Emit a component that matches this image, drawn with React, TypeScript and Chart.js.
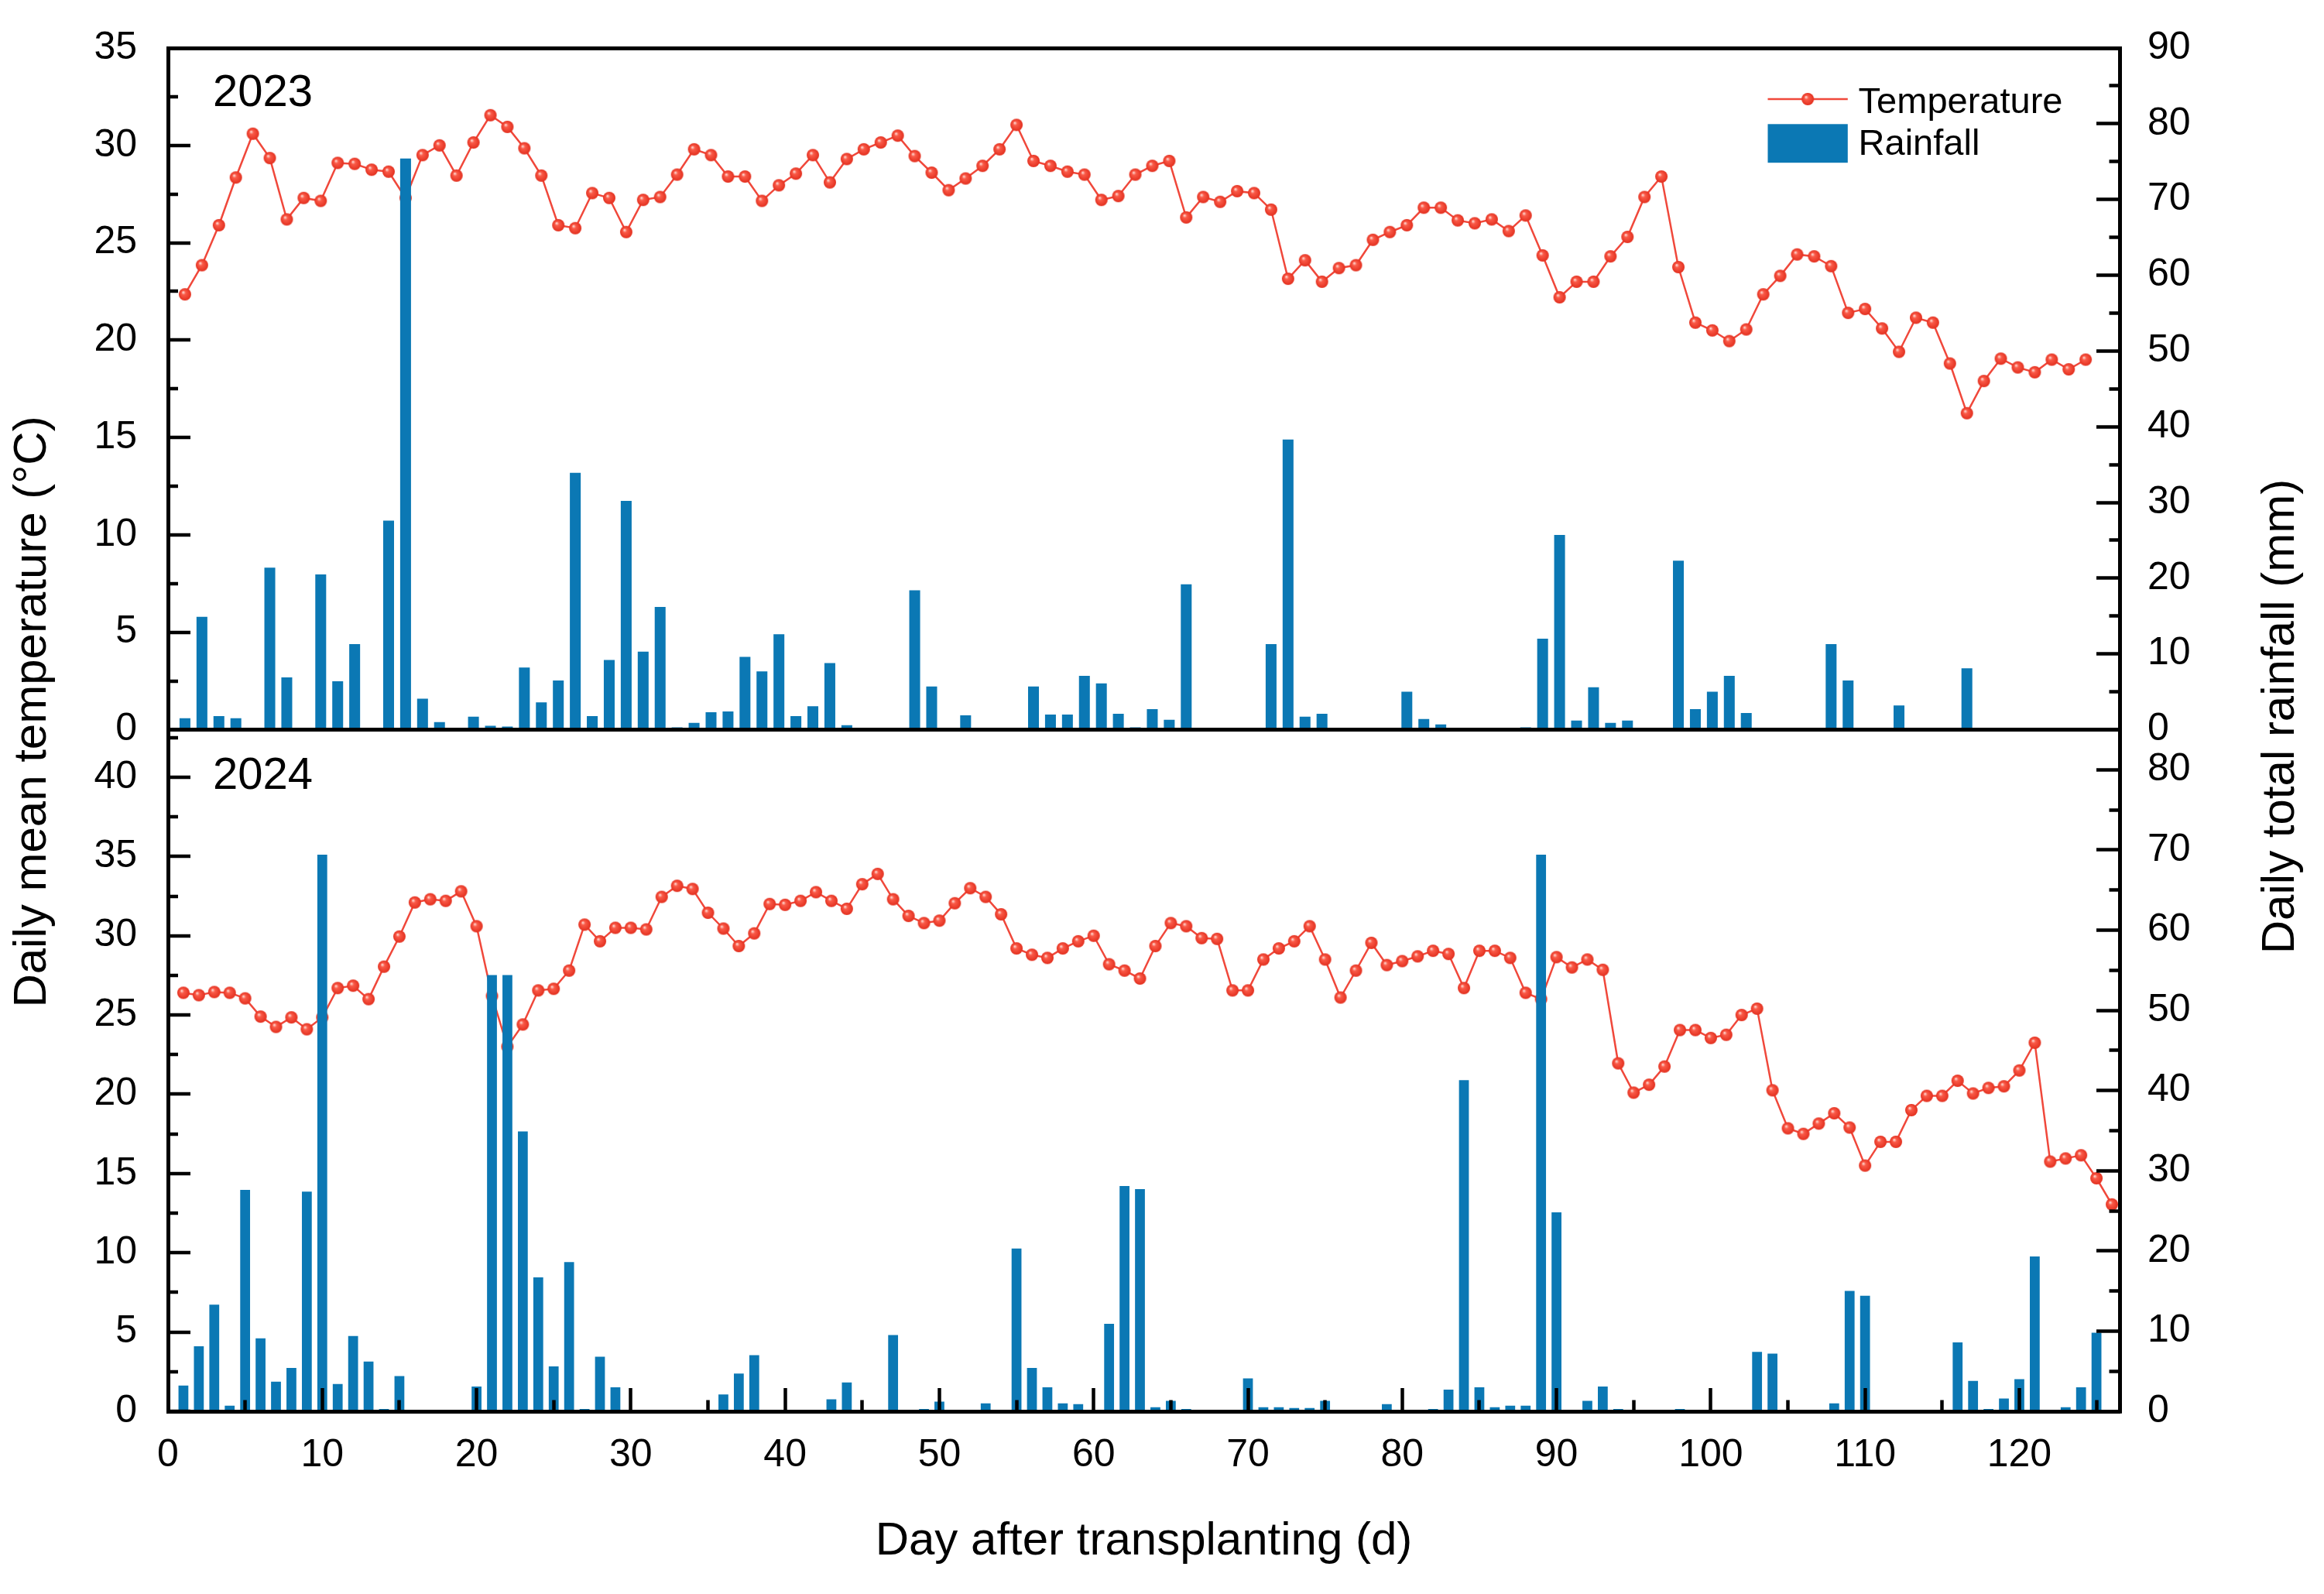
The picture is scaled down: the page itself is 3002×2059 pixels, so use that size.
import { useEffect, useRef } from 'react';
import { Chart, registerables } from 'chart.js';

Chart.register(...registerables);

const FONT = "'Liberation Sans', Arial, Helvetica, sans-serif";
const RED = '#f0483b';
const BLUE = '#0b78b4';

const YEAR_LABELS = ['2023', '2024'];
const SERIES_LABELS = ['Temperature', 'Rainfall'];
const X_TITLE = 'Day after transplanting (d)';
const Y_LEFT_TITLE = 'Daily mean temperature (°C)';
const Y_RIGHT_TITLE = 'Daily total rainfall (mm)';

// 2023 season: days after transplanting 1..113
const days2023 = Array.from({ length: 113 }, (_, i) => i + 1);
const temp2023 = [
  22.35, 23.85, 25.9, 28.35, 30.6, 29.35, 26.2, 27.3, 27.15, 29.1,
  29.05, 28.75, 28.65, 27.3, 29.5, 30.0, 28.45, 30.15, 31.55, 30.95,
  29.85, 28.45, 25.9, 25.75, 27.55, 27.3, 25.55, 27.2, 27.35, 28.5,
  29.8, 29.5, 28.4, 28.4, 27.15, 27.95, 28.55, 29.5, 28.1, 29.3,
  29.8, 30.15, 30.5, 29.45, 28.6, 27.7, 28.3, 28.95, 29.8, 31.05,
  29.2, 28.95, 28.65, 28.5, 27.2, 27.4, 28.5, 28.95, 29.2, 26.3,
  27.35, 27.1, 27.65, 27.55, 26.7, 23.15, 24.1, 23.0, 23.7, 23.85,
  25.15, 25.55, 25.9, 26.8, 26.8, 26.15, 26.0, 26.2, 25.6, 26.4,
  24.35, 22.2, 23.0, 23.0, 24.3, 25.3, 27.35, 28.4, 23.75, 20.9,
  20.5, 19.95, 20.55, 22.35, 23.3, 24.4, 24.3, 23.8, 21.4, 21.6,
  20.6, 19.4, 21.15, 20.9, 18.8, 16.25, 17.9, 19.05, 18.6, 18.35,
  19.0, 18.5, 19.0,
];
const rain2023 = [
  1.5, 14.9, 1.8, 1.5, 0, 21.4, 6.9, 0, 20.5, 6.4,
  11.3, 0, 27.6, 75.4, 4.1, 1.0, 0, 1.7, 0.5, 0.4,
  8.2, 3.6, 6.5, 33.9, 1.8, 9.2, 30.2, 10.3, 16.2, 0.3,
  0.9, 2.3, 2.4, 9.6, 7.7, 12.6, 1.8, 3.1, 8.8, 0.6,
  0, 0, 0, 18.4, 5.7, 0, 1.9, 0, 0, 0,
  5.7, 2.0, 2.0, 7.1, 6.1, 2.1, 0.3, 2.7, 1.3, 19.2,
  0, 0, 0, 0, 11.3, 38.3, 1.7, 2.1, 0, 0,
  0, 0, 5.0, 1.4, 0.7, 0, 0, 0, 0, 0.3,
  12.0, 25.7, 1.2, 5.6, 0.9, 1.2, 0, 0, 22.3, 2.7,
  5.0, 7.1, 2.2, 0, 0, 0, 0, 11.3, 6.5, 0,
  0, 3.2, 0, 0, 0, 8.1, 0, 0, 0, 0,
  0, 0, 0,
];

// 2024 season: days after transplanting 1..126
const days2024 = Array.from({ length: 126 }, (_, i) => i + 1);
const temp2024 = [
  26.4, 26.25, 26.45, 26.4, 26.05, 24.9, 24.25, 24.85, 24.1, 24.85,
  26.7, 26.85, 26.0, 28.05, 29.95, 32.1, 32.3, 32.2, 32.8, 30.6,
  26.2, 23.0, 24.4, 26.55, 26.65, 27.8, 30.7, 29.65, 30.5, 30.5,
  30.4, 32.45, 33.15, 32.95, 31.45, 30.45, 29.35, 30.15, 32.0, 31.95,
  32.2, 32.75, 32.2, 31.7, 33.25, 33.9, 32.3, 31.25, 30.8, 30.95,
  32.05, 33.0, 32.45, 31.35, 29.2, 28.8, 28.6, 29.2, 29.65, 30.0,
  28.2, 27.8, 27.3, 29.35, 30.8, 30.6, 29.85, 29.8, 26.55, 26.55,
  28.5, 29.2, 29.65, 30.6, 28.5, 26.1, 27.8, 29.55, 28.15, 28.4,
  28.7, 29.05, 28.85, 26.7, 29.05, 29.05, 28.6, 26.4, 26.0, 28.65,
  28.0, 28.5, 27.85, 21.95, 20.1, 20.6, 21.75, 24.05, 24.05, 23.55,
  23.75, 25.0, 25.4, 20.25, 17.85, 17.5, 18.15, 18.8, 17.9, 15.5,
  17.0, 17.0, 19.0, 19.9, 19.9, 20.85, 20.05, 20.4, 20.5, 21.5,
  23.25, 15.75, 15.95, 16.15, 14.7, 13.05,
];
const rain2024 = [
  3.2, 8.1, 13.3, 0.7, 27.6, 9.1, 3.7, 5.4, 27.4, 69.4,
  3.4, 9.4, 6.2, 0.3, 4.4, 0, 0, 0, 0, 3.1,
  54.4, 54.4, 34.9, 16.7, 5.6, 18.6, 0.3, 6.8, 3.0, 0,
  0, 0, 0, 0, 0, 2.1, 4.7, 7.0, 0, 0,
  0, 0.2, 1.5, 3.6, 0, 0, 9.5, 0, 0.3, 1.2,
  0, 0, 1.0, 0, 20.3, 5.4, 3.0, 1.0, 0.9, 0,
  10.9, 28.1, 27.7, 0.5, 1.3, 0.3, 0, 0, 0, 4.1,
  0.5, 0.5, 0.4, 0.4, 1.3, 0, 0, 0, 0.9, 0,
  0, 0.3, 2.7, 41.3, 3.0, 0.5, 0.7, 0.7, 69.4, 24.8,
  0, 1.3, 3.1, 0.3, 0, 0, 0, 0.3, 0, 0,
  0, 0, 7.4, 7.2, 0, 0, 0, 1.0, 15.0, 14.4,
  0, 0, 0, 0, 0, 8.6, 3.8, 0.3, 1.6, 4.0,
  19.3, 0, 0.5, 3.0, 9.8, 0,
];

// axis ranges
const X_RANGE_2023 = [0, 115];
const X_RANGE_2024 = [0, 126.5];
const TEMP_RANGE_2023 = [0, 35];
const TEMP_RANGE_2024 = [0, 43];
const RAIN_RANGE_2023 = [0, 90];
const RAIN_RANGE_2024 = [0, 85];

function makeSphere(r: number) {
  const size = Math.ceil(r * 2 + 2);
  const c = document.createElement('canvas');
  c.width = size;
  c.height = size;
  const g = c.getContext('2d') as CanvasRenderingContext2D;
  const cx = size / 2;
  const cy = size / 2;
  const grad = g.createRadialGradient(cx - r * 0.3, cy - r * 0.35, r * 0.05, cx, cy, r);
  grad.addColorStop(0, '#ffd8d0');
  grad.addColorStop(0.3, '#fa5a48');
  grad.addColorStop(1, '#e3301f');
  g.fillStyle = grad;
  g.beginPath();
  g.arc(cx, cy, r, 0, Math.PI * 2);
  g.fill();
  return c;
}

const isMult = (v: number, m: number) => Math.abs(v / m - Math.round(v / m)) < 1e-6;

const tickFont = { family: FONT, size: 50 };

function leftAxis(range: number[], weight: number, frameLines: boolean) {
  return {
    type: 'linear',
    position: 'left',
    stack: 'left',
    stackWeight: 1,
    weight,
    min: range[0],
    max: range[1],
    afterBuildTicks: (s: any) => {
      s.ticks = s.ticks.filter((t: any) => isMult(t.value, 2.5));
    },
    afterFit: (s: any) => {
      s.width = 217;
      s.paddingTop = 0;
      s.paddingBottom = 0;
    },
    ticks: {
      stepSize: 2.5,
      includeBounds: false,
      autoSkip: false,
      padding: 69,
      color: '#000',
      font: tickFont,
      callback: (v: number) => (isMult(v, 5) ? String(v) : ''),
    },
    grid: {
      z: 1,
      drawOnChartArea: frameLines,
      color: (c: any) =>
        frameLines && c.tick && (c.tick.value === range[0] || c.tick.value === range[1]) ? '#000' : 'rgba(0,0,0,0)',
      lineWidth: (c: any) =>
        frameLines && c.tick && (c.tick.value === range[0] || c.tick.value === range[1]) ? 5 : 0,
      drawTicks: true,
      tickLength: -29,
      tickWidth: 4.5,
      tickColor: '#000',
      tickBorderDash: (c: any) => (c.tick && !isMult(c.tick.value, 5) ? [0, 16, 1000, 0] : []),
    },
    border: { display: true, color: '#000', width: 5, z: 1 },
  };
}

function rightAxis(range: number[], weight: number) {
  return {
    type: 'linear',
    position: 'right',
    stack: 'right',
    stackWeight: 1,
    weight,
    min: range[0],
    max: range[1],
    afterBuildTicks: (s: any) => {
      s.ticks = s.ticks.filter((t: any) => isMult(t.value, 5));
    },
    afterFit: (s: any) => {
      s.width = 264;
      s.paddingTop = 0;
      s.paddingBottom = 0;
    },
    ticks: {
      stepSize: 5,
      includeBounds: false,
      autoSkip: false,
      padding: 66,
      color: '#000',
      font: tickFont,
      callback: (v: number) => (isMult(v, 10) ? String(v) : ''),
    },
    grid: {
      z: 1,
      drawOnChartArea: false,
      drawTicks: true,
      tickLength: -30,
      tickWidth: 4.5,
      tickColor: '#000',
      tickBorderDash: (c: any) => (c.tick && !isMult(c.tick.value, 10) ? [16.5, 1000] : []),
    },
    border: { display: true, color: '#000', width: 5, z: 1 },
  };
}

const overlayPlugin = {
  id: 'overlay',
  afterDraw(chart: any) {
    const { ctx, chartArea: a, scales } = chart;
    const topY = scales.yT.top;
    const midY = scales.yB.top;
    const sphere = chart.data.datasets[1].pointStyle;
    ctx.save();
    ctx.fillStyle = '#000';

    // shared axis titles
    ctx.font = `60px ${FONT}`;
    ctx.textAlign = 'center';
    ctx.textBaseline = 'middle';
    const cy = (a.top + a.bottom) / 2;
    ctx.save();
    ctx.translate(a.left - 175, cy - 23);
    ctx.rotate(-Math.PI / 2);
    ctx.fillText(Y_LEFT_TITLE, 0, 0);
    ctx.restore();
    ctx.save();
    ctx.translate(a.right + 208, cy - 17);
    ctx.rotate(-Math.PI / 2);
    ctx.fillText(Y_RIGHT_TITLE, 0, 0);
    ctx.restore();

    // panel labels
    ctx.font = `58px ${FONT}`;
    ctx.textAlign = 'left';
    ctx.textBaseline = 'alphabetic';
    ctx.fillText(YEAR_LABELS[0], a.left + 58, topY + 75);
    ctx.fillText(YEAR_LABELS[1], a.left + 58, midY + 76);

    // legend
    const lx0 = a.right - 454.5;
    const lx1 = a.right - 351.2;
    const ly = topY + 66;
    ctx.strokeStyle = RED;
    ctx.lineWidth = 2.5;
    ctx.beginPath();
    ctx.moveTo(lx0, ly);
    ctx.lineTo(lx1, ly);
    ctx.stroke();
    if (sphere) {
      ctx.drawImage(sphere, (lx0 + lx1) / 2 - sphere.width / 2, ly - sphere.height / 2);
    }
    ctx.font = `47px ${FONT}`;
    ctx.fillStyle = '#000';
    ctx.fillText(chart.data.datasets[1].label, a.right - 337.4, topY + 83.6);
    ctx.fillStyle = BLUE;
    ctx.fillRect(lx0, topY + 98.3, lx1 - lx0, 49.9);
    ctx.fillStyle = '#000';
    ctx.fillText(chart.data.datasets[0].label, a.right - 337.4, topY + 137.6);
    ctx.restore();
  },
};

export default function App() {
  const ref = useRef<HTMLCanvasElement>(null);

  useEffect(() => {
    const canvas = ref.current;
    if (!canvas) return;
    const sphere = makeSphere(8);

    const barStyle = {
      backgroundColor: BLUE,
      borderWidth: 0,
      grouped: false,
      barPercentage: 0.64,
      categoryPercentage: 1,
      order: 0,
    };
    const lineStyle = {
      borderColor: RED,
      borderWidth: 2.5,
      pointStyle: sphere,
      pointRadius: 8,
      pointHoverRadius: 8,
      tension: 0,
      fill: false,
      order: 1,
    };

    const chart = new Chart(canvas, {
      data: {
        datasets: [
          {
            type: 'bar',
            label: SERIES_LABELS[1],
            data: days2023.map((d, i) => ({ x: d, y: rain2023[i] })),
            xAxisID: 'xT',
            yAxisID: 'yTR',
            ...barStyle,
          },
          {
            type: 'line',
            label: SERIES_LABELS[0],
            data: days2023.map((d, i) => ({ x: d, y: temp2023[i] })),
            xAxisID: 'xT',
            yAxisID: 'yT',
            ...lineStyle,
          },
          {
            type: 'bar',
            label: SERIES_LABELS[1],
            data: days2024.map((d, i) => ({ x: d, y: rain2024[i] })),
            xAxisID: 'xB',
            yAxisID: 'yBR',
            ...barStyle,
          },
          {
            type: 'line',
            label: SERIES_LABELS[0],
            data: days2024.map((d, i) => ({ x: d, y: temp2024[i] })),
            xAxisID: 'xB',
            yAxisID: 'yB',
            ...lineStyle,
          },
        ],
      } as any,
      options: {
        responsive: false,
        animation: false,
        events: [],
        layout: { padding: { top: 62, left: 0, right: 0, bottom: 0 } },
        plugins: {
          legend: { display: false },
          tooltip: { enabled: false },
          title: { display: false },
        },
        scales: {
          xT: {
            type: 'linear',
            position: 'bottom',
            display: false,
            offset: false,
            grid: { offset: false },
            min: X_RANGE_2023[0],
            max: X_RANGE_2023[1],
            afterFit: (s: any) => {
              s.height = 0;
              s.paddingLeft = 0;
              s.paddingRight = 0;
            },
          },
          xB: {
            type: 'linear',
            position: 'bottom',
            offset: false,
            min: X_RANGE_2024[0],
            max: X_RANGE_2024[1],
            afterBuildTicks: (s: any) => {
              s.ticks = s.ticks.filter((t: any) => isMult(t.value, 5));
            },
            afterFit: (s: any) => {
              s.height = 236;
              s.paddingLeft = 0;
              s.paddingRight = 0;
            },
            ticks: {
              stepSize: 5,
              includeBounds: false,
              autoSkip: false,
              maxRotation: 0,
              minRotation: 0,
              padding: 57,
              color: '#000',
              font: tickFont,
              callback: (v: number) => (isMult(v, 10) ? String(v) : ''),
            },
            grid: {
              z: 1,
              offset: false,
              drawOnChartArea: false,
              drawTicks: true,
              tickLength: -30,
              tickWidth: 4.5,
              tickColor: '#000',
              tickBorderDash: (c: any) => (c.tick && !isMult(c.tick.value, 10) ? [17.5, 1000] : []),
            },
            border: { display: true, color: '#000', width: 5, z: 1 },
            title: {
              display: true,
              text: X_TITLE,
              color: '#000',
              font: { family: FONT, size: 60 },
              padding: { top: 0, bottom: 32 },
            },
          },
          yT: leftAxis(TEMP_RANGE_2023, 2, true),
          yB: leftAxis(TEMP_RANGE_2024, 1, false),
          yTR: rightAxis(RAIN_RANGE_2023, 1),
          yBR: rightAxis(RAIN_RANGE_2024, 2),
        },
      } as any,
      plugins: [overlayPlugin],
    });

    return () => chart.destroy();
  }, []);

  return (
    <div style={{ position: 'fixed', left: 0, top: 0, width: 3002, height: 2059, background: '#fff' }}>
      <canvas ref={ref} width={3002} height={2059} style={{ display: 'block', width: 3002, height: 2059 }} />
    </div>
  );
}
